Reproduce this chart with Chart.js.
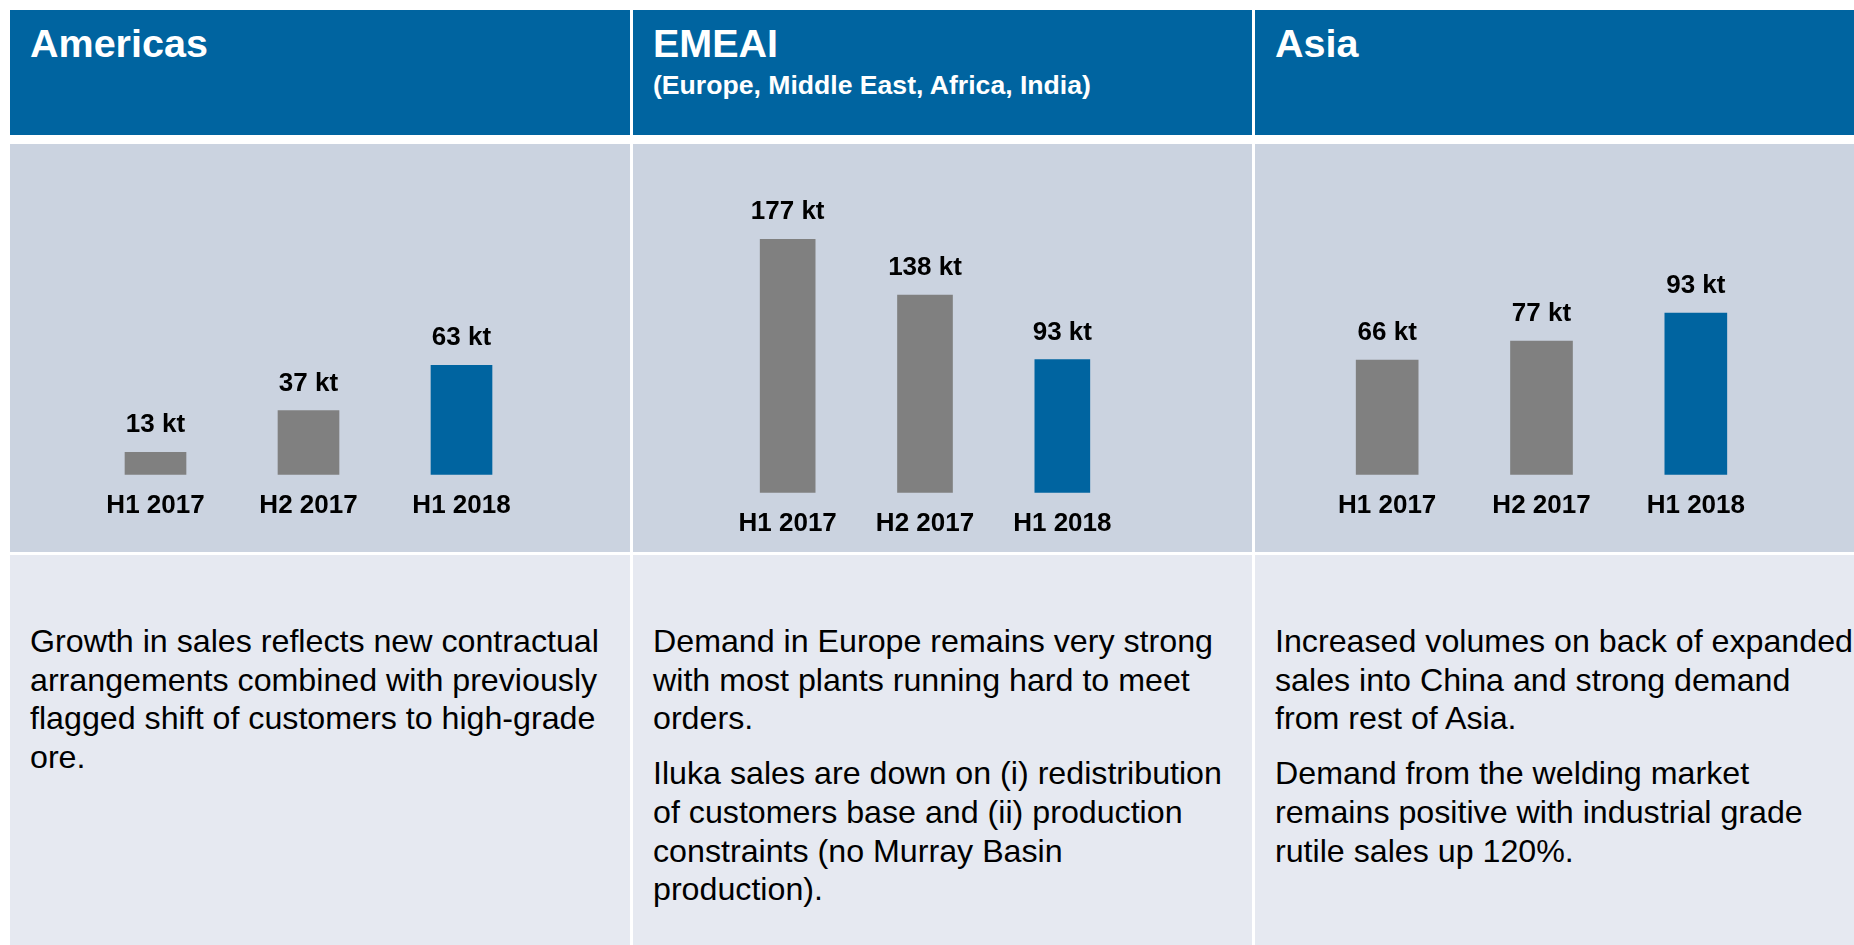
<!DOCTYPE html>
<html>
<head>
<meta charset="utf-8">
<script src="https://cdn.jsdelivr.net/npm/chart.js@4.4.1/dist/chart.umd.min.js"></script>
<style>
  html, body { margin: 0; padding: 0; background: #fff; }
  body { width: 1854px; height: 945px; position: relative; overflow: hidden;
         font-family: "Liberation Sans", Arial, sans-serif; }
  .head { position: absolute; top: 10px; height: 125px; background: #0064a0; color: #fff; }
  .head h2 { margin: 0; position: absolute; left: 20px; top: 10px; font-size: 39.5px; line-height: 47px; font-weight: bold; }
  .head .sub { position: absolute; left: 20px; top: 60px; font-size: 26.6px; line-height: 31px; font-weight: bold; white-space: nowrap; }
  .plot { position: absolute; top: 144px; height: 408px; background: #cbd3e0; }
  .plot canvas { display: block; }
  .note { position: absolute; top: 555px; height: 390px; background: #e6e9f1; overflow: hidden; }
  .note p { margin: 0 0 16px 20px; font-size: 32.2px; line-height: 38.7px; color: #000; white-space: nowrap; }
  .note .inner { position: absolute; top: 67px; left: 0; right: 0; }
  .c1 { left: 10px; width: 620px; }
  .c2 { left: 633px; width: 619px; }
  .c3 { left: 1255px; width: 599px; }
</style>
</head>
<body>

<div class="head c1"><h2>Americas</h2></div>
<div class="head c2"><h2>EMEAI</h2><div class="sub">(Europe, Middle East, Africa, India)</div></div>
<div class="head c3"><h2>Asia</h2></div>

<div class="plot c1"><canvas id="americasChart" width="620" height="408"></canvas></div>
<div class="plot c2"><canvas id="emeaiChart" width="619" height="408"></canvas></div>
<div class="plot c3"><canvas id="asiaChart" width="599" height="408"></canvas></div>

<div class="note c1"><div class="inner">
  <p>Growth in sales reflects new contractual<br>arrangements combined with previously<br>flagged shift of customers to high-grade<br>ore.</p>
</div></div>
<div class="note c2"><div class="inner">
  <p>Demand in Europe remains very strong<br>with most plants running hard to meet<br>orders.</p>
  <p>Iluka sales are down on (i) redistribution<br>of customers base and (ii) production<br>constraints (no Murray Basin<br>production).</p>
</div></div>
<div class="note c3"><div class="inner">
  <p>Increased volumes on back of expanded<br>sales into China and strong demand<br>from rest of Asia.</p>
  <p>Demand from the welding market<br>remains positive with industrial grade<br>rutile sales up 120%.</p>
</div></div>

<script>
// periods and sales volumes (kt)
const periods = ['H1 2017', 'H2 2017', 'H1 2018'];
const americasSales = [13, 37, 63];
const emeaiSales = [177, 138, 93];
const asiaSales = [66, 77, 93];

const fontFamily = '"Liberation Sans", Arial, sans-serif';
const grey = '#808080';
const blue = '#0064a0';

// draws "xx kt" above each bar
const valueLabels = {
    id: 'valueLabels',
    afterDatasetsDraw(chart) {
        const ctx = chart.ctx;
        const values = chart.data.datasets[0].data;
        ctx.save();
        ctx.font = 'bold 26px ' + fontFamily;
        ctx.fillStyle = '#000';
        ctx.textAlign = 'center';
        ctx.textBaseline = 'middle';
        chart.getDatasetMeta(0).data.forEach((bar, i) => {
            ctx.fillText(values[i] + ' kt', bar.x, bar.y - 27);
        });
        ctx.restore();
    }
};

function makeChart(canvasId, values, yMax, barWidth, padding) {
    const ctx = document.getElementById(canvasId).getContext('2d');
    return new Chart(ctx, {
        type: 'bar',
        data: {
            labels: periods,
            datasets: [{
                data: values,
                backgroundColor: [grey, grey, blue],
                borderWidth: 0,
                barThickness: barWidth
            }]
        },
        options: {
            responsive: false,
            animation: false,
            layout: { padding: padding },
            plugins: {
                legend: { display: false },
                tooltip: { enabled: false }
            },
            scales: {
                x: {
                    grid: { display: false, drawTicks: false },
                    border: { display: false },
                    ticks: {
                        color: '#000',
                        padding: 15,
                        font: { family: fontFamily, size: 26, weight: 'bold' }
                    }
                },
                y: { display: false, min: 0, max: yMax }
            }
        },
        plugins: [valueLabels]
    });
}

makeChart('americasChart', americasSales, 180, 61, { left: 69, right: 92, top: 18, bottom: 16 });
makeChart('emeaiChart', emeaiSales, 240, 55, { left: 86, right: 121, top: 5, bottom: -2 });
makeChart('asiaChart', asiaSales, 180, 62, { left: 55, right: 81, top: 18, bottom: 16 });
</script>
</body>
</html>
